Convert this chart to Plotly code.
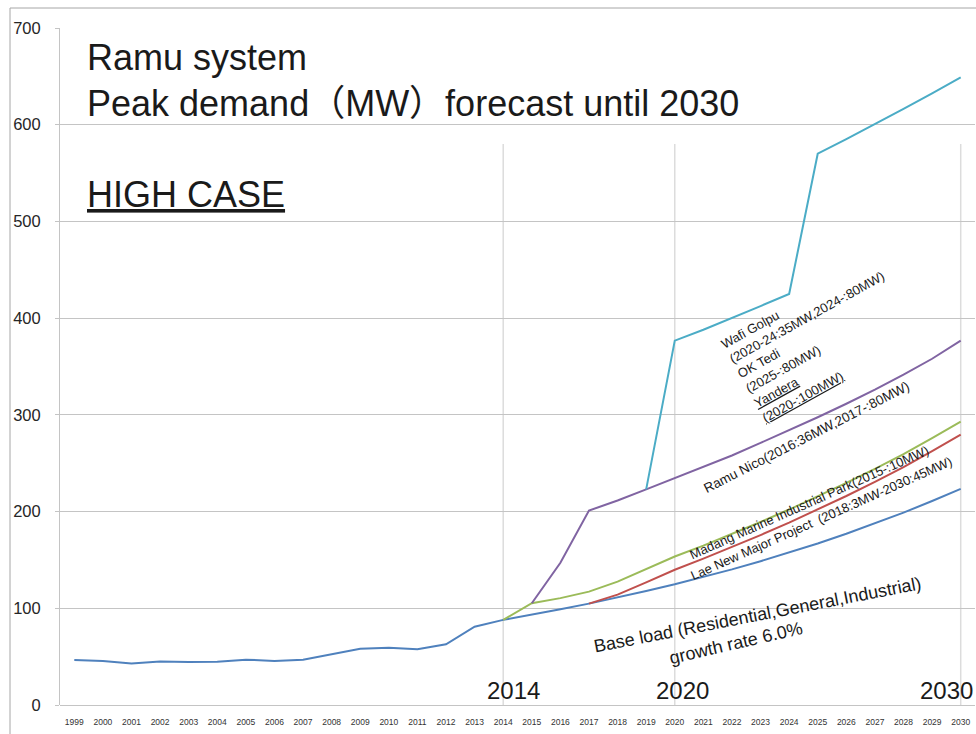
import plotly.graph_objects as go

# ---- data (MW) ----
years = list(range(1999, 2031))
base_load = [46.5, 45.5, 43.0, 45.0, 44.5, 44.8, 46.9, 45.5, 46.9, 52.7, 58.2,
             59.3, 57.6, 62.7, 81.0, 88.0, 93.3, 98.9, 104.8, 111.1, 117.8,
             124.8, 132.3, 140.2, 148.7, 157.6, 167.0, 177.1, 187.7, 198.9,
             210.9, 223.5]

lae_years = list(range(2017, 2031))
lae_total = [104.8, 114.1, 126.8, 139.8, 151.3, 163.2, 175.7, 188.6, 202.0,
             216.1, 230.7, 245.9, 262.4, 279.5]

madang_years = list(range(2014, 2031))
madang_total = [88.0, 105.2, 110.5, 117.2, 127.5, 140.3, 153.5, 164.8, 176.7,
                189.2, 202.1, 215.5, 229.6, 244.2, 259.4, 275.9, 293.0]

ramu_years = list(range(2015, 2031))
ramu_total = [105.2, 147.0, 201.0, 211.5, 223.0, 234.5, 246.0, 258.0, 271.0,
              284.0, 297.5, 311.5, 326.0, 341.5, 358.0, 376.7]

mines_years = list(range(2019, 2031))
mines_total = [223.0, 376.7, 388.0, 400.0, 412.5, 425.0, 570.0, 585.0, 600.5,
               616.5, 632.5, 649.0]

marker_years = [2014, 2020, 2030]
tick_labels = [str(y) for y in years]

# ---- figure geometry (pixels) ----
W, H = 976, 734
ML, MR, MT, MB = 60, 1, 28, 29
PW, PH = W - ML - MR, H - MT - MB
FONT = "Liberation Sans, Arial, Noto Sans CJK JP, sans-serif"


def pos(x, y):
    """Pixel position on the page -> paper coordinates."""
    return dict(x=(x - ML) / PW, y=(H - MB - y) / PH, xref="paper", yref="paper")


fig = go.Figure()

series = [
    (years, base_load, "#4F81BD"),
    (lae_years, lae_total, "#C0504D"),
    (madang_years, madang_total, "#9BBB59"),
    (ramu_years, ramu_total, "#8064A2"),
    (mines_years, mines_total, "#4BACC6"),
]
for xs, ys, col in series:
    fig.add_trace(go.Scatter(x=xs, y=ys, mode="lines",
                             line=dict(color=col, width=2),
                             showlegend=False, hoverinfo="skip"))

shapes = []
# light vertical guides at the milestone years
for yr in marker_years:
    shapes.append(dict(type="line", xref="x", yref="y", x0=yr, x1=yr,
                       y0=0, y1=580, line=dict(color="#dcdcdc", width=1.5),
                       layer="below"))
# frame around the chart (top and left edges)
p0 = pos(10, 8)
shapes.append(dict(type="line", xref="paper", yref="paper",
                   x0=p0["x"], x1=1.02, y0=p0["y"], y1=p0["y"],
                   line=dict(color="#a6a6a6", width=1)))
shapes.append(dict(type="line", xref="paper", yref="paper",
                   x0=p0["x"], x1=p0["x"], y0=p0["y"], y1=-0.1,
                   line=dict(color="#a6a6a6", width=1)))

annotations = []


def label(text, x, y, size, angle=0, xanchor="center", align="center",
          color="#1a1a1a"):
    annotations.append(dict(text=text, showarrow=False, textangle=angle,
                            xanchor=xanchor, yanchor="middle", align=align,
                            font=dict(family=FONT, size=size, color=color),
                            **pos(x, y)))


label("Ramu system", 85, 58, 36, xanchor="left")
label("Peak demand（MW）forecast until 2030", 85, 104, 36, xanchor="left")
label("<u>HIGH CASE</u>", 85, 194, 36, xanchor="left")

label("2014", 513, 690, 24)
label("2020", 682, 690, 24)
label("2030", 946, 690, 24)

label("Base load (Residential,General,Industrial)", 757, 615, 18, angle=-11)
label("growth rate 6.0%", 736, 643, 18, angle=-13)
label("Madang Marine Industrial Park(2015-:10MW)", 809, 502, 13, angle=-24)
label("Lae New Major Project  (2018:3MW-2030:45MW)", 821, 518, 13, angle=-24)
label("Ramu Nico(2016:36MW,2017-:80MW)", 806, 437, 13.5, angle=-27)
label("Wafi Golpu<br>(2020-24:35MW,2024-:80MW)<br>OK Tedi<br>(2025-:80MW)<br>"
      "<u>Yandera</u><br><u>(2020-:100MW)</u>",
      819, 340, 13, angle=-29, align="left")

fig.update_layout(
    width=W, height=H,
    margin=dict(l=ML, r=MR, t=MT, b=MB, pad=0),
    paper_bgcolor="white", plot_bgcolor="white",
    showlegend=False,
    shapes=shapes, annotations=annotations,
    xaxis=dict(range=[1998.5, 2030.5], tickmode="array", tickvals=years,
               ticktext=tick_labels, tickangle=0, showgrid=False,
               zeroline=False, showline=False, ticks="",
               ticklabelstandoff=10,
               tickfont=dict(family=FONT, size=8.5, color="#333333")),
    yaxis=dict(range=[0, 700], dtick=100, showgrid=True, gridcolor="#c4c4c4",
               gridwidth=1, zeroline=True, zerolinecolor="#c4c4c4",
               zerolinewidth=1, showline=True, linecolor="#c4c4c4",
               ticks="outside", ticklen=4, tickcolor="#c4c4c4",
               ticklabelstandoff=11,
               tickfont=dict(family=FONT, size=16.5, color="#262626")),
)

fig.write_html("out.html")
